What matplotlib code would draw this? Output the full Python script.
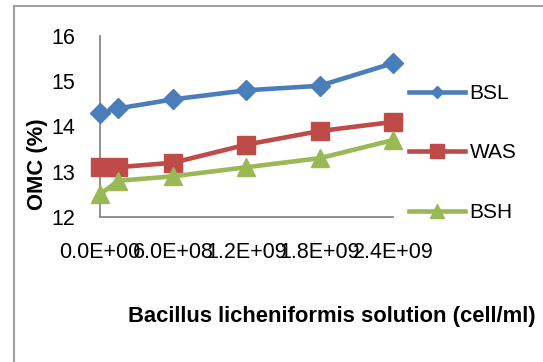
import matplotlib
matplotlib.use("Agg")
import matplotlib.pyplot as plt
from matplotlib.lines import Line2D
from matplotlib.patches import Rectangle
from matplotlib.ticker import FuncFormatter

plt.rcParams['font.family'] = ['Liberation Sans', 'DejaVu Sans']

# data
cells = [0, 1.5e8, 6.0e8, 1.2e9, 1.8e9, 2.4e9]
bsl = [14.3, 14.4, 14.6, 14.8, 14.9, 15.4]
was = [13.1, 13.1, 13.2, 13.6, 13.9, 14.1]
bsh = [12.5, 12.8, 12.9, 13.1, 13.3, 13.7]
x_ticks = [0, 6.0e8, 1.2e9, 1.8e9, 2.4e9]
y_ticks = [12, 13, 14, 15, 16]

series = [
    ("BSL", bsl, "#4A7EBB", "D", 10.5, 6),
    ("WAS", was, "#BE4B48", "s", 13.5, 10.5),
    ("BSH", bsh, "#98B954", "^", 13, 10),
]

fig = plt.figure(figsize=(5.43, 3.62), dpi=100)
ax = fig.add_axes([100 / 543, 1 - 217 / 362, 293 / 543, 181 / 362])

handles = []
for name, vals, color, marker, ms, leg_ms in series:
    ax.plot(cells, vals, color=color, lw=3.3, marker=marker, ms=ms,
            mec=color, mfc=color, clip_on=False, zorder=3)
    handles.append(Line2D([], [], color=color, lw=3.3, marker=marker,
                          ms=leg_ms, mec=color, mfc=color, label=name))

ax.set_xlim(0, 2.4e9)
ax.set_ylim(12, 16)
ax.set_xticks(x_ticks)
ax.set_yticks(y_ticks)
ax.xaxis.set_major_formatter(FuncFormatter(lambda v, p: f"{v:.1E}"))
ax.tick_params(axis='both', length=0, labelsize=15.5)
ax.tick_params(axis='y', pad=18)
ax.tick_params(axis='x', pad=18)

for side in ['top', 'right']:
    ax.spines[side].set_visible(False)
for side in ['left', 'bottom']:
    ax.spines[side].set_color('#888888')
    ax.spines[side].set_linewidth(1.3)

fig.legend(handles=handles, loc='center left',
           bbox_to_anchor=(409 / 543, 1 - 153 / 362),
           bbox_transform=fig.transFigure, frameon=False, fontsize=15,
           handlelength=2.7, handletextpad=0.2, labelspacing=1.95,
           borderpad=0, borderaxespad=0)

fig.text(332 / 543, 1 - 322 / 362, "Bacillus licheniformis solution (cell/ml)",
         ha='center', va='baseline', fontsize=15.8, fontweight='bold')
fig.text(37 / 543, 1 - 164 / 362, "OMC (%)", rotation=90,
         ha='center', va='center', fontsize=15.8, fontweight='bold')

# chart area border (cut off at right and bottom in the reference)
fig.patches.append(Rectangle((14 / 543, -0.1), 1.2, 1 - 6 / 362 + 0.1,
                             transform=fig.transFigure, fill=False,
                             edgecolor='#A0A0A0', lw=1.5))

fig.savefig("out.png", dpi=100)
